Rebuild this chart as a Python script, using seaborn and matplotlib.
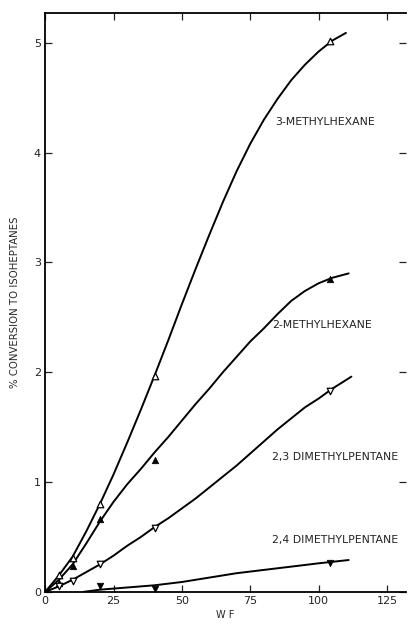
import numpy as np
import pandas as pd
import seaborn as sns
import matplotlib.pyplot as plt

# ================= DATA =================
# measured points (W/F vs % conversion)
wf_pts = [5, 10, 20, 40, 104]
mh3_pts = [0.15, 0.31, 0.80, 1.97, 5.02]
mh2_pts = [0.08, 0.24, 0.66, 1.20, 2.85]
dmp23_pts = [0.05, 0.10, 0.25, 0.58, 1.83]
wf24_pts = [20, 40, 104]
dmp24_pts = [0.05, 0.03, 0.26]

# smoothed curves drawn through the data (read every 5 units of W/F)
mh3_cx = [0, 5, 10, 15, 20, 25, 30, 35, 40, 45, 50, 55, 60, 65, 70, 75, 80, 85, 90, 95, 100, 105, 110]
mh3_cy = [0, 0.15, 0.32, 0.55, 0.80, 1.07, 1.36, 1.66, 1.97, 2.29, 2.62, 2.94, 3.25, 3.55,
          3.83, 4.08, 4.30, 4.49, 4.66, 4.80, 4.92, 5.02, 5.09]

mh2_cx = [0, 5, 10, 15, 20, 25, 30, 35, 40, 45, 50, 55, 60, 65, 70, 75, 80, 85, 90, 95, 100, 105, 111]
mh2_cy = [0, 0.11, 0.25, 0.44, 0.64, 0.82, 0.98, 1.12, 1.27, 1.41, 1.56, 1.71, 1.85, 2.00,
          2.14, 2.28, 2.40, 2.53, 2.65, 2.74, 2.81, 2.86, 2.90]

dmp23_cx = [0, 5, 10, 15, 20, 25, 30, 35, 40, 45, 50, 55, 60, 65, 70, 75, 80, 85, 90, 95, 100, 105, 112]
dmp23_cy = [0, 0.05, 0.11, 0.18, 0.25, 0.33, 0.42, 0.50, 0.59, 0.67, 0.76, 0.85, 0.95, 1.05,
            1.15, 1.26, 1.37, 1.48, 1.58, 1.68, 1.76, 1.85, 1.96]

dmp24_cx = [14, 20, 30, 40, 50, 60, 70, 80, 90, 100, 111]
dmp24_cy = [0, 0.02, 0.04, 0.06, 0.09, 0.13, 0.17, 0.20, 0.23, 0.26, 0.29]

labels = ["3-METHYLHEXANE", "2-METHYLHEXANE", "2,3 DIMETHYLPENTANE", "2,4 DIMETHYLPENTANE"]
label_pos = [(84, 4.28), (83, 2.43), (83, 1.23), (83, 0.47)]

x_ticks = [0, 25, 50, 75, 100, 125]
y_ticks = [0, 1, 2, 3, 4, 5]

# ================= PLOT =================
sns.set_style("ticks")
plt.rcParams['font.family'] = ['DejaVu Sans']

fig = plt.figure(figsize=(4.11, 6.25), dpi=100)
ax = fig.add_axes([0.110, 0.053, 0.878, 0.926])

curves = [(mh3_cx, mh3_cy), (mh2_cx, mh2_cy), (dmp23_cx, dmp23_cy), (dmp24_cx, dmp24_cy)]
for cx, cy in curves:
    sns.lineplot(x=cx, y=cy, sort=False, color="black", linewidth=1.4, ax=ax)

# markers: open/filled up and down triangles
sns.scatterplot(x=wf_pts, y=mh3_pts, marker="^", s=22, facecolor="white",
                edgecolor="black", linewidth=0.9, zorder=3, ax=ax)
sns.scatterplot(x=wf_pts, y=mh2_pts, marker="^", s=22, color="black",
                edgecolor="black", linewidth=0.5, zorder=3, ax=ax)
sns.scatterplot(x=wf_pts, y=dmp23_pts, marker="v", s=22, facecolor="white",
                edgecolor="black", linewidth=0.9, zorder=3, ax=ax)
sns.scatterplot(x=wf24_pts, y=dmp24_pts, marker="v", s=22, color="black",
                edgecolor="black", linewidth=0.5, zorder=3, ax=ax)

for lab, (lx, ly) in zip(labels, label_pos):
    ax.text(lx, ly, lab, fontsize=7.8, ha="left", va="center", color="#222222")

ax.set_xlim(0, 132)
ax.set_ylim(0, 5.27)
ax.set_xticks(x_ticks)
ax.set_yticks(y_ticks)
ax.tick_params(direction="in", length=5, width=0.9, labelsize=8, colors="#222222",
               top=True, right=True, pad=3)

for side in ["left", "bottom", "top"]:
    ax.spines[side].set_linewidth(1.3)
    ax.spines[side].set_color("black")
ax.spines["right"].set_visible(False)

ax.set_xlabel("W F", fontsize=7, labelpad=3)
ax.set_ylabel("% CONVERSION TO ISOHEPTANES", fontsize=7.3, labelpad=10)

fig.savefig("out.png", dpi=100)
